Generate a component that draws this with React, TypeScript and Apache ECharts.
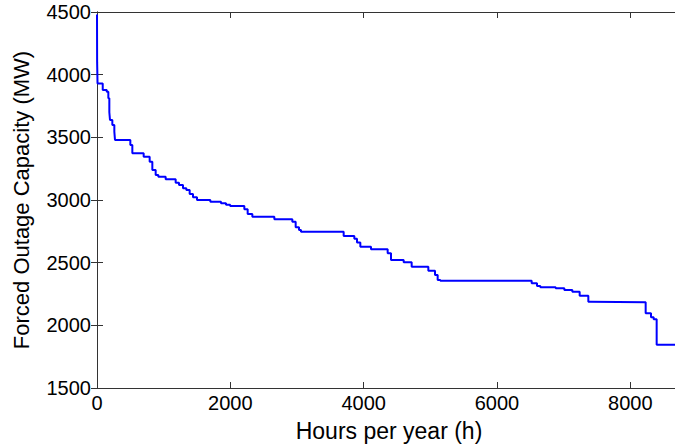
import React, { useEffect, useRef } from "react";
import * as echarts from "echarts";

const hours = [0, 2, 8, 86, 146, 170, 185, 195, 230, 260, 270, 500, 530, 700, 790, 830, 880, 920, 1030, 1180, 1230, 1290, 1340, 1390, 1440, 1500, 1700, 1860, 1935, 1997, 2210, 2260, 2330, 2660, 2930, 2980, 3030, 3060, 3700, 3860, 3900, 3950, 4110, 4360, 4410, 4600, 4720, 4970, 5070, 5110, 5150, 6520, 6600, 6650, 6880, 7010, 7130, 7240, 7370, 7390, 8230, 8310, 8350, 8395, 8760];
const capacity = [4480, 4100, 3930, 3878, 3864, 3811, 3700, 3638, 3598, 3545, 3479, 3439, 3373, 3346, 3306, 3240, 3199, 3186, 3165, 3138, 3120, 3093, 3080, 3048, 3022, 3000, 2987, 2974, 2962, 2952, 2926, 2888, 2867, 2846, 2827, 2782, 2761, 2747, 2713, 2690, 2660, 2627, 2607, 2575, 2521, 2503, 2468, 2436, 2402, 2362, 2356, 2335, 2314, 2303, 2295, 2282, 2268, 2236, 2189, 2184, 2096, 2064, 2048, 1845, 1845];

const xTicks = [0, 2000, 4000, 6000, 8000];
const xName = "Hours per year (h)";
const yName = "Forced Outage Capacity (MW)";

export default function App() {
  const ref = useRef<HTMLDivElement>(null);
  useEffect(() => {
    if (!ref.current) return;
    const chart = echarts.init(ref.current, null, { renderer: "svg" });
    const font = "'Liberation Sans', Arial, sans-serif";
    const axisLine = { show: true, lineStyle: { color: "#333", width: 1 } };
    const tick = { show: true, inside: true, length: 6, lineStyle: { color: "#333", width: 1 } };
    chart.setOption({
      animation: false,
      backgroundColor: "#fff",
      grid: { left: 97, top: 12, bottom: 60, right: 9, containLabel: false },
      xAxis: [
        {
          type: "value",
          min: 0,
          max: 8760,
          interval: 2000,
          position: "bottom",
          name: xName,
          nameLocation: "middle",
          nameGap: 31,
          nameTextStyle: { fontFamily: font, fontSize: 23, color: "#000" },
          axisLine,
          axisTick: tick,
          splitLine: { show: false },
          axisLabel: {
            fontFamily: font,
            fontSize: 20,
            color: "#000",
            margin: 5,
            formatter: (v: number) => (xTicks.includes(v) ? String(v) : ""),
          },
        },
        {
          type: "value",
          min: 0,
          max: 8760,
          interval: 2000,
          position: "top",
          axisLine,
          axisTick: tick,
          splitLine: { show: false },
          axisLabel: { show: false },
        },
      ],
      yAxis: [
        {
          type: "value",
          min: 1500,
          max: 4500,
          interval: 500,
          position: "left",
          name: yName,
          nameLocation: "middle",
          nameGap: 65,
          nameTextStyle: { fontFamily: font, fontSize: 22, color: "#000" },
          axisLine,
          axisTick: tick,
          splitLine: { show: false },
          axisLabel: {
            fontFamily: font,
            fontSize: 20,
            color: "#000",
            margin: 6,
            formatter: (v: number) => String(v),
          },
        },
        {
          type: "value",
          min: 1500,
          max: 4500,
          interval: 500,
          position: "right",
          axisLine,
          axisTick: tick,
          splitLine: { show: false },
          axisLabel: { show: false },
        },
      ],
      series: [
        {
          type: "line",
          step: "end",
          showSymbol: false,
          data: hours.map((h, i) => [h, capacity[i]]),
          lineStyle: { color: "#0000ff", width: 2 },
          itemStyle: { color: "#0000ff" },
        },
      ],
    });
    return () => chart.dispose();
  }, []);
  return (
    <div
      style={{
        position: "absolute",
        left: 0,
        top: 0,
        width: 675,
        height: 448,
        overflow: "hidden",
        background: "#fff",
      }}
    >
      <div ref={ref} style={{ width: 690, height: 448 }} />
    </div>
  );
}
